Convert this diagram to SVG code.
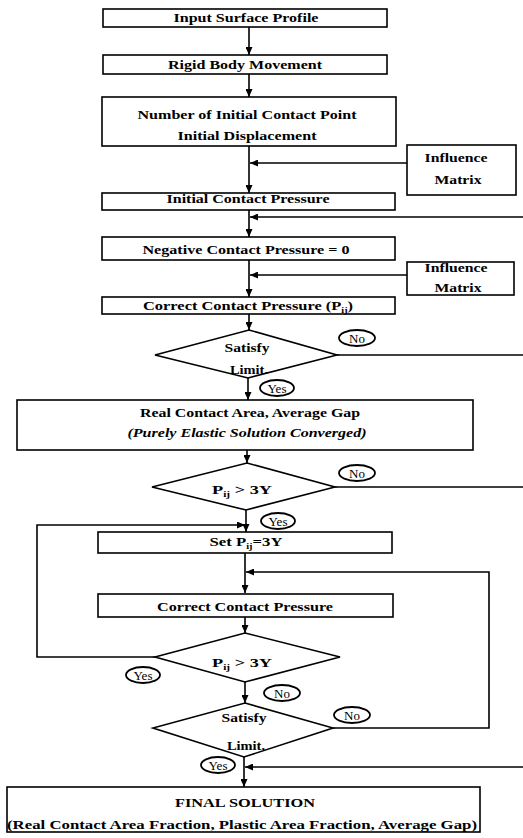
<svg xmlns="http://www.w3.org/2000/svg" width="523" height="838" viewBox="0 0 523 838">
<style>
.box{fill:#fff;stroke:#000;stroke-width:1.6}
.dia{fill:#fff;stroke:#000;stroke-width:1.6}
.ell{fill:#fff;stroke:#000;stroke-width:1.8}
.t{font-family:"Liberation Serif","Times New Roman",serif;font-weight:bold;font-size:13px;fill:#000;text-anchor:middle}
.ti{font-style:italic}
.s{font-size:8px}
.lbl{font-family:"Liberation Serif","Times New Roman",serif;font-size:13px;fill:#000;text-anchor:middle}
.c{fill:none;stroke:#000;stroke-width:1.6}
</style>
<defs>
<marker id="ah" markerUnits="userSpaceOnUse" markerWidth="8" markerHeight="7" refX="8" refY="3.5" orient="auto">
<path d="M0,0 L8,3.5 L0,7 z" fill="#000"/>
</marker>
</defs>
<rect width="523" height="838" fill="#fff"/>
<g id="connectors">
<path class="c" d="M249,27 V55" marker-end="url(#ah)"/>
<path class="c" d="M249,74 V97" marker-end="url(#ah)"/>
<path class="c" d="M249,146 V193" marker-end="url(#ah)"/>
<path class="c" d="M407,163 H250" marker-end="url(#ah)"/>
<path class="c" d="M249,210 V237" marker-end="url(#ah)"/>
<path class="c" d="M523,217 H250" marker-end="url(#ah)"/>
<path class="c" d="M249,260 V297" marker-end="url(#ah)"/>
<path class="c" d="M407,275 H250" marker-end="url(#ah)"/>
<path class="c" d="M249,314 V330" marker-end="url(#ah)"/>
<path class="c" d="M337,355 H523"/>
<path class="c" d="M248,378 V400" marker-end="url(#ah)"/>
<path class="c" d="M247,450 V463" marker-end="url(#ah)"/>
<path class="c" d="M335,487 H523"/>
<path class="c" d="M246,510 V532" marker-end="url(#ah)"/>
<path class="c" d="M155,657 H37 V525 H245" marker-end="url(#ah)"/>
<path class="c" d="M245,553 V593" marker-end="url(#ah)"/>
<path class="c" d="M333,728 H489 V572 H246" marker-end="url(#ah)"/>
<path class="c" d="M245,617 V633" marker-end="url(#ah)"/>
<path class="c" d="M245,682 V703" marker-end="url(#ah)"/>
<path class="c" d="M244,757 V787" marker-end="url(#ah)"/>
<path class="c" d="M523,767 H245" marker-end="url(#ah)"/>
</g>
<g id="n1"><rect class="box" x="103" y="9" width="284" height="18"/><text class="t" x="246" y="22" textLength="145" lengthAdjust="spacingAndGlyphs">Input Surface Profile</text></g>
<g id="n2"><rect class="box" x="103" y="55" width="284" height="19"/><text class="t" x="245" y="69" textLength="154" lengthAdjust="spacingAndGlyphs">Rigid Body Movement</text></g>
<g id="n3"><rect class="box" x="102" y="97" width="294" height="49"/><text class="t" x="247" y="119" textLength="219" lengthAdjust="spacingAndGlyphs">Number of Initial Contact Point</text><text class="t" x="247" y="140" textLength="139" lengthAdjust="spacingAndGlyphs">Initial Displacement</text></g>
<g id="im1"><rect class="box" x="407" y="145" width="109" height="50"/><text class="t" x="456" y="162" textLength="63" lengthAdjust="spacingAndGlyphs">Influence</text><text class="t" x="458" y="184" textLength="47" lengthAdjust="spacingAndGlyphs">Matrix</text></g>
<g id="n4"><rect class="box" x="102" y="193" width="293" height="17"/><text class="t" x="248" y="203" textLength="163" lengthAdjust="spacingAndGlyphs">Initial Contact Pressure</text></g>
<g id="n5"><rect class="box" x="102" y="237" width="293" height="23"/><text class="t" x="246" y="254" textLength="207" lengthAdjust="spacingAndGlyphs">Negative Contact Pressure = 0</text></g>
<g id="im2"><rect class="box" x="407" y="262" width="107" height="33"/><text class="t" x="456" y="272" textLength="63" lengthAdjust="spacingAndGlyphs">Influence</text><text class="t" x="458" y="292" textLength="47" lengthAdjust="spacingAndGlyphs">Matrix</text></g>
<g id="n6"><rect class="box" x="102" y="297" width="293" height="17"/><text class="t" x="248" y="310" textLength="210" lengthAdjust="spacingAndGlyphs">Correct Contact Pressure (P<tspan class="s" dy="3">ij</tspan><tspan dy="-3">)</tspan></text></g>
<g id="d1"><polygon class="dia" points="249,330 337,355 248,378 155,355"/><text class="t" x="247" y="352" textLength="45" lengthAdjust="spacingAndGlyphs">Satisfy</text><text class="t" x="249" y="374" textLength="38" lengthAdjust="spacingAndGlyphs">Limit.</text></g>
<g id="no1"><ellipse class="ell" cx="357" cy="338" rx="18" ry="8"/><text class="lbl" x="357" y="342.5">No</text></g>
<g id="yes1"><ellipse class="ell" cx="277" cy="388" rx="17" ry="8"/><text class="lbl" x="277" y="392.5">Yes</text></g>
<g id="n7"><rect class="box" x="17" y="400" width="456" height="50"/><text class="t" x="250" y="417" textLength="220" lengthAdjust="spacingAndGlyphs">Real Contact Area, Average Gap</text><text class="t ti" x="247" y="437" textLength="239" lengthAdjust="spacingAndGlyphs">(Purely Elastic Solution Converged)</text></g>
<g id="d2"><polygon class="dia" points="247,463 335,487 246,510 152,487"/><text class="t" x="242" y="494" textLength="60" lengthAdjust="spacingAndGlyphs">P<tspan class="s" dy="3">ij</tspan><tspan dy="-3"> &gt; 3Y</tspan></text></g>
<g id="no2"><ellipse class="ell" cx="357" cy="473" rx="18" ry="8"/><text class="lbl" x="357" y="477.5">No</text></g>
<g id="yes2"><ellipse class="ell" cx="278" cy="521" rx="17" ry="8"/><text class="lbl" x="278" y="525.5">Yes</text></g>
<g id="n8"><rect class="box" x="98" y="532" width="294" height="21"/><text class="t" x="246" y="546" textLength="73" lengthAdjust="spacingAndGlyphs">Set  P<tspan class="s" dy="3">ij</tspan><tspan dy="-3">=3Y</tspan></text></g>
<g id="n9"><rect class="box" x="98" y="594" width="295" height="23"/><text class="t" x="245" y="611" textLength="176" lengthAdjust="spacingAndGlyphs">Correct Contact Pressure</text></g>
<g id="d3"><polygon class="dia" points="245,633 340,657 245,682 155,657"/><text class="t" x="242" y="667" textLength="60" lengthAdjust="spacingAndGlyphs">P<tspan class="s" dy="3">ij</tspan><tspan dy="-3"> &gt; 3Y</tspan></text></g>
<g id="yes3"><ellipse class="ell" cx="143" cy="675" rx="17" ry="8"/><text class="lbl" x="143" y="679.5">Yes</text></g>
<g id="no3"><ellipse class="ell" cx="282" cy="693" rx="18" ry="8"/><text class="lbl" x="282" y="697.5">No</text></g>
<g id="d4"><polygon class="dia" points="245,703 333,728 244,757 153,728"/><text class="t" x="244" y="722" textLength="45" lengthAdjust="spacingAndGlyphs">Satisfy</text><text class="t" x="246" y="750" textLength="38" lengthAdjust="spacingAndGlyphs">Limit.</text></g>
<g id="no4"><ellipse class="ell" cx="352" cy="715" rx="18" ry="8"/><text class="lbl" x="352" y="719.5">No</text></g>
<g id="yes4"><ellipse class="ell" cx="218" cy="765" rx="17" ry="8"/><text class="lbl" x="218" y="769.5">Yes</text></g>
<g id="n10"><rect class="box" x="7" y="787" width="473" height="45"/><text class="t" x="245" y="807" textLength="140" lengthAdjust="spacingAndGlyphs">FINAL SOLUTION</text><text class="t" x="242" y="829" textLength="470" lengthAdjust="spacingAndGlyphs">(Real Contact Area Fraction, Plastic Area Fraction, Average Gap)</text></g>
</svg>
